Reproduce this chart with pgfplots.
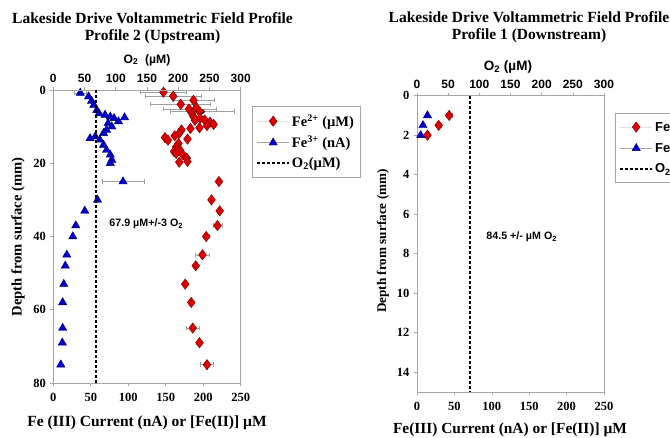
\documentclass[border=0pt]{standalone}
\usepackage{fontspec}
\setmainfont{Liberation Serif}
\setsansfont{Liberation Sans}
\usepackage{pgfplots}
\pgfplotsset{compat=1.18}

\definecolor{feII}{RGB}{225,0,0}
\definecolor{feIII}{RGB}{0,0,210}
\definecolor{frame}{RGB}{165,165,165}
\newcommand{\fs}[1]{\fontsize{#1}{#1}\selectfont}
\tikzset{o2line/.style={black, line width=1.7pt, dash pattern=on 3pt off 2pt}}

\pgfplotsset{
  panel/.style={
    scale only axis, anchor=south west, y dir=reverse, clip=false,
    axis line style={frame, line width=0.8pt},
    tick align=outside, major tick length=3pt,
    tick style={frame, line width=0.6pt},
    xtick pos=bottom, ytick pos=left,
    /pgf/number format/assume math mode=true,
    ticklabel style={font=\bfseries\fs{12.5}},
    xticklabel style={yshift=-4pt},
    yticklabel style={xshift=-1pt},
  },
  o2axis/.style={
    scale only axis, anchor=south west, y dir=reverse, clip=false,
    axis x line*=top, axis y line=none,
    x axis line style={-, frame, line width=0.8pt},
    tick align=outside, major tick length=3pt,
    tick style={frame, line width=0.6pt},
    xmin=0, xmax=300, xtick={0,50,...,300},
    /pgf/number format/assume math mode=true,
    xticklabel style={font=\sffamily\bfseries\fs{12}, yshift=1pt},
  },
  fe2/.style={only marks, mark=diamond*, mark size=5.2pt,
    mark options={fill=feII, draw=black!60!red, line width=0.4pt},
    legend image code/.code={
      \draw[gray!25, line width=0.6pt] (0pt,0pt) -- (32pt,0pt);
      \draw[##1, mark repeat=2, mark phase=2] plot coordinates {(0pt,0pt)(16pt,0pt)(32pt,0pt)};}},
  fe3/.style={only marks, mark=triangle*, mark size=4.8pt,
    mark options={fill=feIII, draw=black!60!blue, line width=0.4pt},
    legend image code/.code={
      \draw[gray!70, line width=0.7pt] (0pt,0pt) -- (32pt,0pt);
      \draw[##1, mark repeat=2, mark phase=2] plot coordinates {(0pt,0pt)(16pt,0pt)(32pt,0pt)};}},
  errs/.style={forget plot, only marks, mark=none,
    error bars/.cd, x dir=both, x explicit,
    error bar style={gray!75, line width=0.5pt},
    error mark options={rotate=90, gray!75, mark size=2.2pt, line width=0.5pt}},
}

\begin{document}
\begin{tikzpicture}
\useasboundingbox (0pt,-438pt) rectangle (670pt,0pt);

% ---------------- Profile 2 (Upstream) ----------------
\begin{axis}[panel, at={(53.3pt,-383pt)}, width=187.4pt, height=293pt,
  xmin=0, xmax=250, xtick={0,50,...,250},
  ymin=0, ymax=80, ytick={0,20,...,80},
  legend style={at={(1.06,0.945)}, anchor=north west, draw=frame, line width=0.7pt,
    font=\bfseries\fs{14.5}, inner xsep=4pt, inner ysep=6pt, row sep=4pt,
    cells={anchor=west}},
]
\addplot[errs] coordinates {
 (147,0.6) +- (31,0) (160,1.7) +- (38,0) (187,2.8) +- (28,0)
 (170,3.9) +- (40,0) (182,5.2) +- (35,0) (199,5.9) +- (43,0)
 (219,37) +- (6,0) (204,40) +- (4,0) (199,45) +- (9,0) (190,48) +- (3,0)
 (184,58) +- (3,0) (186,65) +- (9,0) (195,69) +- (4,0) (205,75) +- (9,0)
};
\addplot[fe2] coordinates {
 (147,0.6) (160,1.7) (187,2.8) (170,3.9) (181,5.2) (191,4.8) (185,6.4)
 (195,5.9) (187,7.3) (196,7.7) (202,8.2) (189,8.3) (209,8.8) (214,9.4)
 (205,9.7) (195,10.3) (183,10.5) (171,10.9) (168,11.8) (162,12.5)
 (149,13.0) (153,13.7) (179,13.4) (167,14.6) (164,15.5) (169,16.4)
 (161,16.8) (164,17.3) (173,17.7) (178,18.6) (168,19.7) (179,19.5)
 (221,25) (211,30) (222,33) (219,37) (204,40) (199,45) (190,48)
 (176,53) (184,58) (186,65) (195,69) (205,75)
};
\addlegendentry{Fe\textsuperscript{2+} (µM)}
\addplot[errs] coordinates {(36,0.8) +- (8,0) (93,25) +- (28,0)};
\addplot[fe3] coordinates {
 (36,0.8) (47,1.8) (51,3.0) (54,4.1) (58,5.5) (61,6.4) (69,6.8) (76,7.3)
 (81,7.7) (95,7.5) (87,8.6) (73,9.1) (78,10.0) (71,10.9) (67,11.8)
 (56,12.7) (49,13.2) (62,13.6) (67,15.0) (71,16.4) (76,17.7) (78,19.1)
 (76,20.0) (93,25) (59,30) (42,33) (30,37) (26,40) (18,45) (16,48)
 (14,53) (12.5,58) (12.5,65) (12,69) (10,75)
};
\addlegendentry{Fe\textsuperscript{3+} (nA)}
\addlegendimage{legend image code/.code={\draw[o2line] (0pt,0pt) -- (32pt,0pt);}}
\addlegendentry{O\textsubscript{2}(µM)}
\node[font=\sffamily\bfseries\fs{10.7}] at (axis cs:124,36.6) {67.9 µM+/-3 O\textsubscript{2}};
\end{axis}
\begin{axis}[o2axis, at={(53.3pt,-383pt)}, width=187.4pt, height=293pt, ymin=0, ymax=80]
\addplot[o2line] coordinates {(67.9,0) (67.9,80)};
\end{axis}

% ---------------- Profile 1 (Downstream) ----------------
\begin{axis}[panel, at={(417pt,-392pt)}, width=187pt, height=296.3pt,
  xmin=0, xmax=250, xtick={0,50,...,250},
  ymin=0, ymax=15, ytick={0,2,...,14},
  legend style={at={(1.059,0.943)}, anchor=north west, draw=frame, line width=0.7pt,
    font=\sffamily\bfseries\fs{13}, inner xsep=4pt, inner ysep=6pt, row sep=5pt,
    cells={anchor=west}},
]
\addplot[errs] coordinates {(43,1) +- (4,0) (29,1.5) +- (3,0)};
\addplot[fe2] coordinates {(43,1) (29,1.5) (14,2)};
\addlegendentry{Fe\textsuperscript{2+} (µM)}
\addplot[fe3] coordinates {(14,1) (8,1.5) (5,2)};
\addlegendentry{Fe\textsuperscript{3+} (nA)}
\addlegendimage{legend image code/.code={\draw[o2line] (0pt,0pt) -- (32pt,0pt);}}
\addlegendentry{O\textsubscript{2}(µM)}
\node[font=\sffamily\bfseries\fs{10.7}] at (axis cs:140,7.14) {84.5 +/- µM O\textsubscript{2}};
\end{axis}
\begin{axis}[o2axis, at={(417pt,-392pt)}, width=187pt, height=296.3pt, ymin=0, ymax=15]
\addplot[o2line] coordinates {(84.5,0) (84.5,15)};
\end{axis}

% ---------------- titles and labels ----------------
\node[font=\bfseries\fontsize{15.5}{16.7}\selectfont, align=center] at (152.5pt,-28.3pt)
  {Lakeside Drive Voltammetric Field Profile\\Profile 2 (Upstream)};
\node[font=\bfseries\fontsize{15.5}{17.5}\selectfont, align=center] at (529pt,-27pt)
  {Lakeside Drive Voltammetric Field Profile\\Profile 1 (Downstream)};
\node[font=\sffamily\bfseries\fs{12.2}] at (147pt,-60pt) {O\textsubscript{2}\ \ (µM)};
\node[font=\sffamily\bfseries\fs{13.5}] at (508pt,-66.7pt) {O\textsubscript{2} (µM)};
\node[font=\bfseries\fs{15.5}] at (147pt,-423pt) {Fe (III) Current (nA) or [Fe(II)] µM};
\node[font=\bfseries\fs{15.4}] at (510pt,-430pt) {Fe(III) Current (nA) or [Fe(II)] µM};
\node[font=\bfseries\fs{14.6}, rotate=90] at (18pt,-237pt) {Depth from surface (mm)};
\node[font=\bfseries\fs{13.2}, rotate=90] at (383pt,-241pt) {Depth from surface (mm)};
\end{tikzpicture}
\end{document}
